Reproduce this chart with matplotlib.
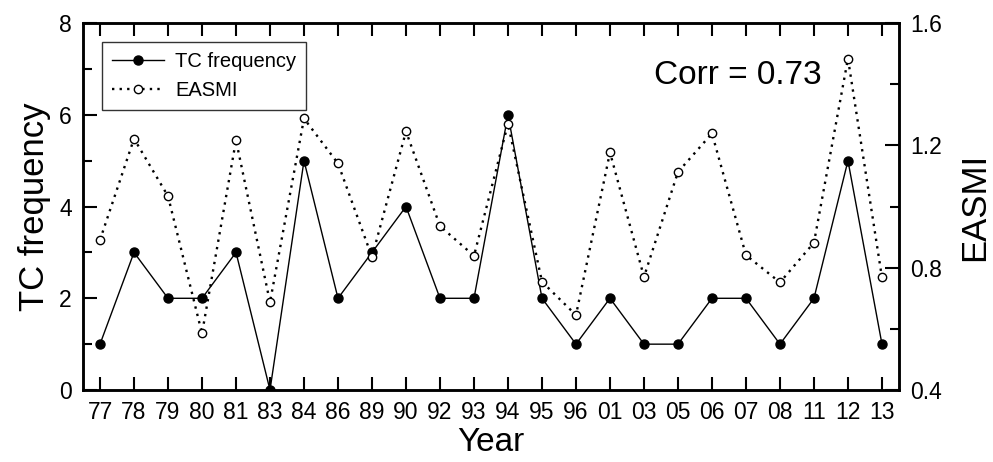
import matplotlib
matplotlib.use("Agg")
import matplotlib.pyplot as plt
from matplotlib.ticker import MultipleLocator, FixedLocator

plt.rcParams['font.family'] = ['Liberation Sans', 'DejaVu Sans']

years = ["77", "78", "79", "80", "81", "83", "84", "86", "89", "90", "92", "93",
         "94", "95", "96", "01", "03", "05", "06", "07", "08", "11", "12", "13"]
tc_freq = [1, 3, 2, 2, 3, 0, 5, 2, 3, 4, 2, 2, 6, 2, 1, 2, 1, 1, 2, 2, 1, 2, 5, 1]
easmi = [0.891, 1.222, 1.034, 0.585, 1.217, 0.687, 1.288, 1.141, 0.835, 1.246,
         0.936, 0.839, 1.271, 0.754, 0.645, 1.177, 0.770, 1.113, 1.239, 0.841,
         0.752, 0.882, 1.484, 0.768]
corr_text = "Corr = 0.73"

x = list(range(len(years)))

fig = plt.figure(figsize=(9.93, 4.62), dpi=100)
ax = fig.add_axes([0.0836, 0.1558, 0.8217, 0.7942])
ax2 = ax.twinx()

l1, = ax.plot(x, tc_freq, color='black', lw=1.0, marker='o', markersize=6.5,
              markerfacecolor='black', markeredgecolor='black', label='TC frequency', zorder=3)
l2, = ax2.plot(x, easmi, color='black', lw=1.7, linestyle=(0, (1, 2.2)), marker='o',
               markersize=6, markerfacecolor='white', markeredgecolor='black',
               markeredgewidth=1.0, label='EASMI', zorder=3)

ax.set_xlim(-0.5, len(years) - 0.5)
ax.set_ylim(0, 8)
ax2.set_ylim(0.4, 1.6)

ax.set_xticks(x)
ax.set_xticklabels(years)
ax.yaxis.set_major_locator(MultipleLocator(2))
ax.yaxis.set_minor_locator(MultipleLocator(1))
ax2.yaxis.set_major_locator(FixedLocator([0.4, 0.8, 1.2, 1.6]))
ax2.yaxis.set_minor_locator(FixedLocator([0.6, 1.0, 1.4]))
ax2.set_yticklabels(["0.4", "0.8", "1.2", "1.6"])

ax.tick_params(axis='x', which='major', direction='in', length=9.5, width=1.5,
               top=True, labelsize=16.5, pad=8)
ax.tick_params(axis='y', which='major', direction='in', length=10, width=1.5,
               labelsize=16.5, pad=8)
ax.tick_params(axis='y', which='minor', direction='in', length=6.5, width=1.5)
ax2.tick_params(axis='y', which='major', direction='in', length=10, width=1.5,
                labelsize=16.5, pad=8)
ax2.tick_params(axis='y', which='minor', direction='in', length=6.5, width=1.5)

for a in (ax, ax2):
    for s in a.spines.values():
        s.set_linewidth(1.8)

ax.set_xlabel("Year", fontsize=24, labelpad=2)
ax.set_ylabel("TC frequency", fontsize=25, labelpad=6)
ax2.set_ylabel("EASMI", fontsize=25, labelpad=12)

ax.text(0.70, 0.858, corr_text, transform=ax.transAxes, fontsize=24,
        ha='left', va='center')

leg = ax.legend([l1, l2], ['TC frequency', 'EASMI'], loc='upper left',
                bbox_to_anchor=(0.023, 0.948), borderaxespad=0, fontsize=14.5,
                frameon=True, fancybox=False, edgecolor='black', handlelength=2.6,
                borderpad=0.5, labelspacing=0.5, handletextpad=0.55)
leg.get_frame().set_linewidth(1.0)
leg.set_zorder(5)

fig.savefig("out.png", dpi=100)
